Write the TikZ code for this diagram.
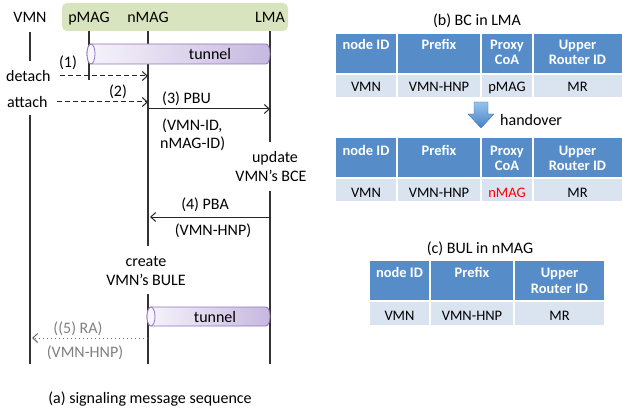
\documentclass[tikz,border=0pt]{standalone}
\usepackage{fontspec}
\setmainfont{Carlito}
\usetikzlibrary{arrows.meta}
\definecolor{hdr}{RGB}{86,141,201}
\definecolor{rowc}{RGB}{218,227,240}
\definecolor{grn}{RGB}{215,228,189}
\definecolor{tunL}{RGB}{247,244,251}
\definecolor{tunR}{RGB}{198,184,224}
\definecolor{tunline}{RGB}{145,115,190}
\definecolor{graytxt}{RGB}{128,128,128}
\definecolor{arrL}{RGB}{150,195,235}
\definecolor{arrD}{RGB}{70,130,200}
\begin{document}
\begin{tikzpicture}[x=1pt,y=-1pt,
  lbl/.style={anchor=base, inner sep=0pt, font=\fontsize{16}{18}\selectfont},
  tlbl/.style={anchor=base, inner sep=0pt, font=\fontsize{14.5}{16}\selectfont},
  hlbl/.style={tlbl, text=white, font=\fontsize{14.5}{16}\selectfont\bfseries},
  life/.style={line width=1.3pt, black!80},
  msg/.style={line width=1pt, black!85, -{Straight Barb[length=5pt,width=9pt,line width=1pt]}},
  dashmsg/.style={msg, dash pattern=on 5pt off 3pt},
  ramsg/.style={msg, graytxt!80!black, dash pattern=on 1.4pt off 2.6pt},
  hcell/.style={fill=hdr, draw=white, line width=1.5pt},
  dcell/.style={fill=rowc, draw=white, line width=1.5pt},
  tunnelbox/.style={left color=tunL, right color=tunR, draw=tunline, line width=0.8pt}
]
\useasboundingbox (0,0) rectangle (622,412);

% ---------- header ----------
\fill[grn, rounded corners=5pt] (62,3) rectangle (288,31);
\node[lbl] (vmn) at (30,23) {VMN};
\node[lbl] (pmag) at (89,23) {pMAG};
\node[lbl] (nmag) at (148,23) {nMAG};
\node[lbl] (lma) at (270,23) {LMA};

% ---------- lifelines ----------
\coordinate (v1) at (30,32);  \coordinate (v2) at (30,61);
\coordinate (v3) at (30,115); \coordinate (v4) at (30,364);
\coordinate (p1) at (89,31);  \coordinate (p2) at (89,80);
\coordinate (n1) at (148,31); \coordinate (n2) at (148,246);
\coordinate (n3) at (148,294); \coordinate (n4) at (148,364);
\coordinate (l1) at (270,31); \coordinate (l2) at (270,142);
\coordinate (l3) at (270,191); \coordinate (l4) at (270,364);
\draw[life] (v1) -- (v2);
\draw[life] (v3) -- (v4);
\draw[life] (p1) -- (p2);
\draw[life] (n1) -- (n2);
\draw[life] (n3) -- (n4);
\draw[life] (l1) -- (l2);
\draw[life] (l3) -- (l4);

% ---------- tunnel 1 ----------
\shade[tunnelbox] (91,44) -- (266,44) arc[start angle=-90, end angle=90, x radius=4, y radius=10]
  -- (91,64) arc[start angle=90, end angle=270, x radius=4, y radius=10] -- cycle;
\draw[tunline, line width=0.8pt, fill=tunL] (91,54) ellipse [x radius=4, y radius=10];
\node[lbl] (tun1) at (210,60) {tunnel};

% ---------- detach / attach ----------
\node[lbl] (n1lbl) at (68,68) {(1)};
\node[lbl, anchor=base west] (detach) at (6,82) {detach};
\coordinate (d1) at (60,76); \coordinate (d2) at (148,76);
\draw[dashmsg] (d1) -- (d2);
\node[lbl] (n2lbl) at (118,97) {(2)};
\node[lbl, anchor=base west] (attach) at (7,108) {attach};
\coordinate (a1) at (57,102); \coordinate (a2) at (148,102);
\draw[dashmsg] (a1) -- (a2);

% ---------- PBU ----------
\node[lbl, anchor=base west] (pbu) at (162,103) {(3) PBU};
\coordinate (pb1) at (148,109); \coordinate (pb2) at (270,109);
\draw[msg] (pb1) -- (pb2);
\node[lbl, anchor=base west] (vmnid) at (162,131) {(VMN-ID,};
\node[lbl, anchor=base west] (nmagid) at (160,148) {nMAG-ID)};

\node[lbl] (update) at (275,163) {update};
\node[lbl] (bce) at (271,182) {VMN’s BCE};

% ---------- PBA ----------
\node[lbl] (pba) at (205,209) {(4) PBA};
\coordinate (pa1) at (270,217); \coordinate (pa2) at (150,217);
\draw[msg] (pa1) -- (pa2);
\node[lbl] (hnp1) at (213,235) {(VMN-HNP)};

\node[lbl] (create) at (146,266) {create};
\node[lbl] (bule) at (146,285) {VMN’s BULE};

% ---------- tunnel 2 ----------
\shade[tunnelbox] (151,307) -- (266,307) arc[start angle=-90, end angle=90, x radius=4, y radius=9.5]
  -- (151,326) arc[start angle=90, end angle=270, x radius=4, y radius=9.5] -- cycle;
\draw[tunline, line width=0.8pt, fill=tunL] (151,316.5) ellipse [x radius=4, y radius=9.5];
\node[lbl] (tun2) at (215,322) {tunnel};

% ---------- RA ----------
\node[lbl, text=graytxt] (ra) at (78,333) {((5) RA)};
\coordinate (r1) at (148,338); \coordinate (r2) at (32,338);
\draw[ramsg] (r1) -- (r2);
\node[lbl, text=graytxt] (hnp2) at (85,357) {(VMN-HNP)};

\node[lbl] (capa) at (150,403) {(a) signaling message sequence};

% ---------- table (b) ----------
\node[lbl] (capb) at (477,26) {(b) BC in LMA};
\path[hcell] (335,33) rectangle (397,74);
\path[hcell] (397,33) rectangle (481,74);
\path[hcell] (481,33) rectangle (533,74);
\path[hcell] (533,33) rectangle (623,74);
\path[dcell] (335,74) rectangle (397,98);
\path[dcell] (397,74) rectangle (481,98);
\path[dcell] (481,74) rectangle (533,98);
\path[dcell] (533,74) rectangle (623,98);
\node[hlbl] (b11) at (366,50) {node ID};
\node[hlbl] (b12) at (439,50) {Prefix};
\node[hlbl] (b13) at (507,50) {Proxy};
\node[hlbl] (b13b) at (507,65) {CoA};
\node[hlbl] (b14) at (577.5,50) {Upper};
\node[hlbl] (b14b) at (577.5,65) {Router ID};
\node[tlbl] (b21) at (366,92) {VMN};
\node[tlbl] (b22) at (439,92) {VMN-HNP};
\node[tlbl] (b23) at (507,92) {pMAG};
\node[tlbl] (b24) at (577.5,92) {MR};

% ---------- handover ----------
\shade[top color=arrL, bottom color=arrD, draw=arrD!80!black, line width=0.3pt]
  (474,102) -- (488,102) -- (488,114) -- (494,114) -- (481,128) -- (468,114) -- (474,114) -- cycle;
\node[lbl, anchor=base west] (handover) at (500,125) {handover};

\path[hcell] (335,137) rectangle (397,178);
\path[hcell] (397,137) rectangle (481,178);
\path[hcell] (481,137) rectangle (533,178);
\path[hcell] (533,137) rectangle (623,178);
\path[dcell] (335,178) rectangle (397,202);
\path[dcell] (397,178) rectangle (481,202);
\path[dcell] (481,178) rectangle (533,202);
\path[dcell] (533,178) rectangle (623,202);
\node[hlbl] (c11) at (366,155) {node ID};
\node[hlbl] (c12) at (439,155) {Prefix};
\node[hlbl] (c13) at (507,155) {Proxy};
\node[hlbl] (c13b) at (507,171) {CoA};
\node[hlbl] (c14) at (577.5,155) {Upper};
\node[hlbl] (c14b) at (577.5,171) {Router ID};
\node[tlbl] (c21) at (366,197) {VMN};
\node[tlbl] (c22) at (439,197) {VMN-HNP};
\node[tlbl, text=red] (c23) at (507,197) {nMAG};
\node[tlbl] (c24) at (577.5,197) {MR};

% ---------- table (c) ----------
\node[lbl] (capc) at (480,253) {(c) BUL in nMAG};
\path[hcell] (369,260) rectangle (430,301);
\path[hcell] (430,260) rectangle (514,301);
\path[hcell] (514,260) rectangle (605,301);
\path[dcell] (369,301) rectangle (430,326);
\path[dcell] (430,301) rectangle (514,326);
\path[dcell] (514,301) rectangle (605,326);
\node[hlbl] (d11) at (399.5,277) {node ID};
\node[hlbl] (d12) at (472,277) {Prefix};
\node[hlbl] (d13) at (559.5,277) {Upper};
\node[hlbl] (d13b) at (559.5,293) {Router ID};
\node[tlbl] (d21) at (399.5,320) {VMN};
\node[tlbl] (d22) at (472,320) {VMN-HNP};
\node[tlbl] (d23) at (559.5,320) {MR};
\end{tikzpicture}
\end{document}
